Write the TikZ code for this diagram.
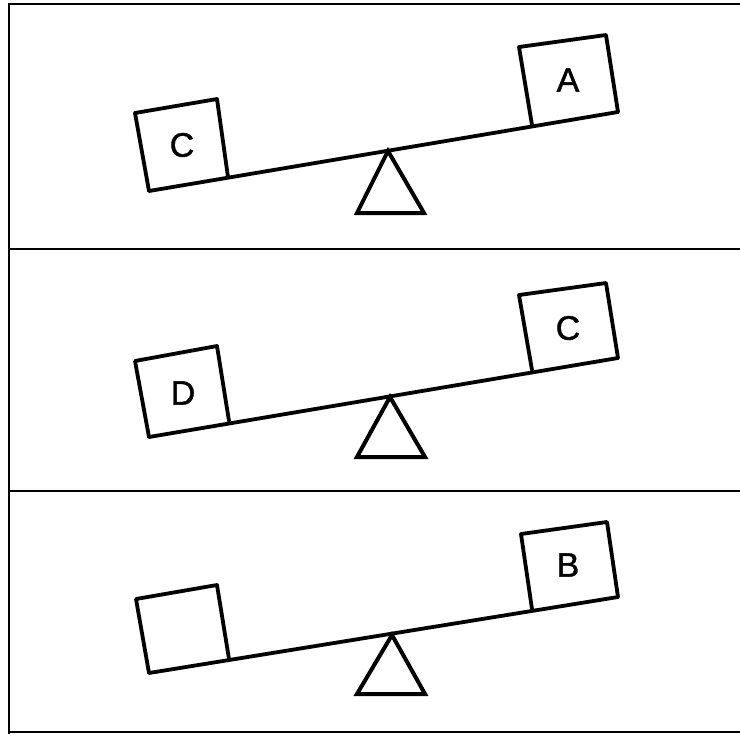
\documentclass[tikz,border=0pt]{standalone}
\usepackage{fontspec}
\setmainfont{Liberation Sans}
\newfontfamily\lblfont[FakeBold=1.2]{Liberation Sans}
\tikzset{
  frameline/.style={line width=1.8pt, line cap=rect},
  thick stroke/.style={line width=3.8pt, line join=round, line cap=round},
  weight/.style={thick stroke},
  fulcrum/.style={line width=4pt, line join=miter},
  lbl/.style={font=\lblfont\fontsize{34}{34}\selectfont, inner sep=0pt}
}
\begin{document}
\begin{tikzpicture}[x=1pt,y=-1pt]
\useasboundingbox (0,0) rectangle (740,734);
% frame
\draw[frameline] (9,734) -- (9,4) -- (740,4);
\draw[frameline] (9,249) -- (740,249);
\draw[frameline] (9,491) -- (740,491);
\draw[frameline] (9,732) -- (740,732);

% ---- panel 1 ----
\coordinate (b1l) at (149,191);
\coordinate (b1r) at (618,112);
\draw[thick stroke] (b1l) -- (b1r);
\draw[weight] (b1l) -- (135,113) -- (217,99) -- (228,177);
\draw[weight] (b1r) -- (606,35) -- (519,47) -- (532,125);
\draw[fulcrum] (388,151) -- (357,213) -- (424,213) -- cycle;
\node[lbl] (c1) at (182,145) {C};
\node[lbl] (a1) at (568,80) {A};

% ---- panel 2 ----
\coordinate (b2l) at (149,437);
\coordinate (b2r) at (618,358);
\draw[thick stroke] (b2l) -- (b2r);
\draw[weight] (b2l) -- (135,361) -- (217,346) -- (229,421);
\draw[weight] (b2r) -- (606,283) -- (519,295) -- (532,370);
\draw[fulcrum] (390,397) -- (357,457) -- (425,457) -- cycle;
\node[lbl] (d2) at (183,393) {D};
\node[lbl] (c2) at (568,328) {C};

% ---- panel 3 ----
\coordinate (b3l) at (149,673);
\coordinate (b3r) at (618,597);
\draw[thick stroke] (b3l) -- (b3r);
\draw[weight] (b3l) -- (136,599) -- (217,585) -- (229,659);
\draw[weight] (b3r) -- (607,522) -- (521,534) -- (532,609);
\draw[fulcrum] (392,635) -- (357,694) -- (425,694) -- cycle;
\node[lbl] (b3) at (568,565) {B};
\end{tikzpicture}
\end{document}
